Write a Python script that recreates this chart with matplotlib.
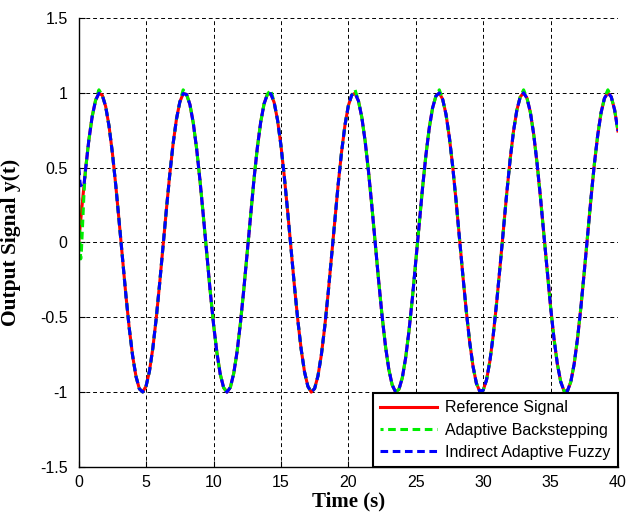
import numpy as np
import matplotlib
matplotlib.use("Agg")
import matplotlib.pyplot as plt

# time grid of the logged output (0.25 s steps)
t = np.arange(0, 40.001, 0.25)

# reference signal y_r(t)
y_ref = [
    0.000, 0.247, 0.479, 0.682, 0.841, 0.949, 0.997, 0.984, 0.909, 0.778,
    0.598, 0.382, 0.141, -0.108, -0.351, -0.572, -0.757, -0.895, -0.978, -0.999,
    -0.959, -0.859, -0.706, -0.508, -0.279, -0.033, 0.215, 0.450, 0.657, 0.823,
    0.938, 0.995, 0.989, 0.922, 0.798, 0.625, 0.412, 0.174, -0.075, -0.320,
    -0.544, -0.735, -0.880, -0.970, -1.000, -0.968, -0.875, -0.729, -0.537, -0.311,
    -0.066, 0.183, 0.420, 0.632, 0.804, 0.926, 0.991, 0.994, 0.935, 0.818,
    0.650, 0.442, 0.207, -0.042, -0.288, -0.516, -0.712, -0.864, -0.961, -1.000,
    -0.976, -0.891, -0.751, -0.564, -0.343, -0.099, 0.150, 0.390, 0.605, 0.783,
    0.913, 0.985, 0.997, 0.946, 0.837, 0.675, 0.472, 0.239, -0.009, -0.256,
    -0.487, -0.688, -0.846, -0.951, -0.998, -0.982, -0.906, -0.772, -0.591, -0.374,
    -0.132, 0.117, 0.359, 0.579, 0.763, 0.899, 0.979, 0.999, 0.956, 0.854,
    0.699, 0.501, 0.271, 0.024, -0.224, -0.458, -0.664, -0.828, -0.941, -0.995,
    -0.988, -0.919, -0.793, -0.618, -0.404, -0.165, 0.084, 0.328, 0.552, 0.741,
    0.884, 0.972, 1.000, 0.965, 0.871, 0.723, 0.529, 0.303, 0.057, -0.191,
    -0.428, -0.638, -0.809, -0.929, -0.992, -0.993, -0.932, -0.813, -0.643, -0.434,
    -0.198, 0.051, 0.296, 0.524, 0.718, 0.868, 0.964, 1.000, 0.974, 0.887,
    0.745,
]

# backstepping output: small overshoot on the peaks (sample index -> value)
peak_overshoot = {6: 1.02, 31: 1.02, 57: 1.02, 82: 1.02, 107: 1.02, 132: 1.02, 157: 1.02}

# start-up transients (first 0.5 s)
t_start = [0.0, 0.05, 0.1, 0.15, 0.2, 0.3, 0.4]
y_back_start = [0.30, 0.12, -0.02, -0.11, -0.06, 0.14, 0.34]
y_fuzzy_start = [0.50, 0.46, 0.40, 0.38, 0.38, 0.37, 0.39]

y_back = list(y_ref)
for i, v in peak_overshoot.items():
    y_back[i] = v

t_back = np.concatenate([t_start, t[2:]])
y_back = np.concatenate([y_back_start, y_back[2:]])
t_fuzzy = np.concatenate([t_start, t[2:]])
y_fuzzy = np.concatenate([y_fuzzy_start, y_ref[2:]])

plt.rcParams["axes.unicode_minus"] = False

fig = plt.figure(figsize=(6.28, 5.13), dpi=100)
ax = fig.add_axes([0.1253, 0.0897, 0.8587, 0.8753])

ax.plot(t, y_ref, color="red", lw=2.2, label="Reference Signal")
ax.plot(t_back, y_back, color="#00ee00", lw=2.2, linestyle=(1.5, (2.5, 1.5)),
        label="Adaptive Backstepping")
ax.plot(t_fuzzy, y_fuzzy, color="blue", lw=2.2, linestyle=(0, (2.5, 1.5)),
        label="Indirect Adaptive Fuzzy")

ax.set_xlim(0, 40)
ax.set_ylim(-1.5, 1.5)
ax.set_xticks(np.arange(0, 41, 5))
ax.set_yticks(np.arange(-1.5, 1.51, 0.5))
ax.set_yticklabels(["-1.5", "-1", "-0.5", "0", "0.5", "1", "1.5"])
ax.tick_params(axis="y", direction="in", length=4, labelsize=11.5, pad=8)
ax.tick_params(axis="x", direction="in", length=4, labelsize=11.5, pad=6)
for lab in ax.get_xticklabels() + ax.get_yticklabels():
    lab.set_family("Liberation Sans")

ax.grid(True, color="black", linestyle=(0, (4, 3)), lw=0.7)
ax.spines["top"].set_visible(False)
ax.spines["right"].set_visible(False)
for s in ["left", "bottom"]:
    ax.spines[s].set_linewidth(1.0)

ax.set_xlabel("Time (s)", family="Liberation Serif", fontweight="bold", fontsize=15, labelpad=1)
ax.set_ylabel("Output Signal y(t)", family="Liberation Serif", fontweight="bold", fontsize=15.5,
              labelpad=14)

leg = ax.legend(loc="lower right", borderaxespad=0, fancybox=False, framealpha=1,
                edgecolor="black", handlelength=3.6, handletextpad=0.5, labelspacing=0.45,
                borderpad=0.45, prop={"family": "Liberation Sans", "size": 11.5})
leg.get_frame().set_linewidth(1.5)

fig.savefig("out.png", dpi=100)
